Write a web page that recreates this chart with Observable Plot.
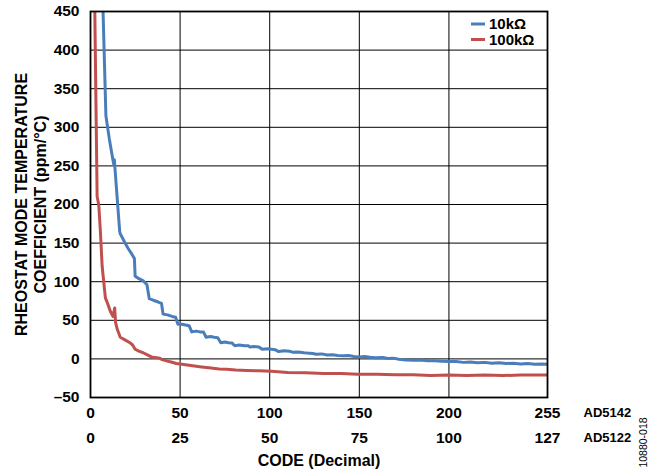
<!DOCTYPE html>
<html>
<head>
<meta charset="utf-8">
<script src="https://cdn.jsdelivr.net/npm/d3@7"></script>
<script src="https://cdn.jsdelivr.net/npm/@observablehq/plot@0.6"></script>
<style>
  html, body { margin: 0; padding: 0; background: #fff; }
  #chart { width: 660px; height: 471px; }
</style>
</head>
<body>
<div id="chart"></div>
<script>
// ---- data ----
const ad5142Ticks = [0, 50, 100, 150, 200, 255];
const ad5122Labels = [0, 25, 50, 75, 100, 127];
const yTicks = [-50, 0, 50, 100, 150, 200, 250, 300, 350, 400, 450];
const seriesNames = ["10kΩ", "100kΩ"];
const seriesColors = ["#4a7ebb", "#c0504d"];

const blueCode = [7, 8.6, 10.5, 12.5, 13, 13.3, 13.6, 14, 14.7, 16.3, 16.6, 18, 19.3, 21, 23, 24.5, 24.9, 27, 29.5, 31.5, 32.8, 35, 37.5, 39.6, 40.5, 43, 45.5, 47.5, 48.8, 51, 53, 55, 56.5, 59, 61, 63, 64.5, 67, 69, 71, 72.7, 75, 77, 79, 80.5, 83, 86, 88, 89, 91, 94, 95.8, 99, 103, 105, 108, 111, 113, 116, 119, 121, 124, 126, 129, 132, 135, 138, 141, 144, 147, 150, 153, 156, 159, 163, 166, 169, 172, 176, 180, 184, 188, 192, 196, 200, 204, 208, 212, 216, 220, 224, 228, 232, 236, 240, 244, 248, 252, 255];
const blueValue = [450, 315, 285, 258, 252, 258, 248, 236, 214, 165, 162, 156, 150, 143, 136, 130, 107, 104, 101, 96, 78, 76, 74, 72, 58, 57, 55, 54, 45, 45, 44, 43, 35, 36, 35, 35, 28, 29, 28, 27.5, 21, 22, 21, 20.5, 17, 18, 17, 17, 15.5, 16, 15.5, 12.5, 13, 12, 9.5, 10.5, 10, 8.5, 9, 8, 7.5, 7, 6, 6.5, 5, 5.5, 4.5, 4, 4.5, 3, 2.6, 3, 2, 1.5, 1.7, 0.5, 1, -0.5, -1.3, -1.7, -1.5, -2.5, -2.5, -3, -3.5, -3.5, -4.5, -4, -5, -4.5, -5.5, -5, -6, -5.5, -6.5, -6, -7, -6.5, -7];

const redCode = [2.4, 3.7, 4.6, 5.5, 6.5, 8.3, 9.5, 11, 12.5, 13.5, 14, 15, 16.6, 19, 22, 23.5, 24.9, 27, 29.4, 32, 34, 38.7, 40, 42.4, 45, 47.9, 51, 54, 57, 62, 66, 71.8, 76, 81, 87, 94, 101, 110, 120, 130, 140, 149, 160, 170, 180, 190, 200, 210, 220, 230, 240, 255];
const redValue = [450, 210, 200, 166, 120, 79, 72, 62, 55, 66, 47, 38, 28, 25, 21, 18, 12.5, 10, 8, 5, 2.6, 1, -1, -2.6, -4, -6, -7, -8, -9, -10.5, -11.5, -13, -13.5, -14.5, -15, -15.5, -16, -17.5, -18, -19, -19, -20, -20, -20.5, -20.5, -21.5, -21, -21.5, -21, -21.5, -21, -21];

// ---- build tables ----
const blue = blueCode.map((c, i) => ({code: c, value: blueValue[i], series: seriesNames[0]}));
const red = redCode.map((c, i) => ({code: c, value: redValue[i], series: seriesNames[1]}));

const font = "'Liberation Sans', Arial, Helvetica, sans-serif";

const chart = Plot.plot({
  width: 660,
  height: 471,
  marginLeft: 90,
  marginRight: 113,
  marginTop: 11,
  marginBottom: 74,
  style: {fontFamily: font, fontSize: "15.5px", fontWeight: "bold", color: "black", background: "white", overflow: "visible"},
  x: {domain: [0, 255]},
  y: {domain: [-50, 450]},
  marks: [
    Plot.gridX([50, 100, 150, 200], {stroke: "black", strokeOpacity: 1, strokeWidth: 1}),
    Plot.gridY(yTicks, {stroke: "black", strokeOpacity: 1, strokeWidth: 1}),
    Plot.line(blue, {x: "code", y: "value", stroke: seriesColors[0], strokeWidth: 3, clip: true}),
    Plot.line(red, {x: "code", y: "value", stroke: seriesColors[1], strokeWidth: 3, clip: true}),
    Plot.frame({stroke: "black", strokeWidth: 1.8}),
    Plot.axisY(yTicks, {tickSize: 0, tickPadding: 11, label: null, fontSize: 15.5, tickFormat: d => d < 0 ? "\u2013" + Math.abs(d) : String(d)}),
    Plot.axisX(ad5142Ticks, {tickSize: 0, tickPadding: 9.5, label: null, fontSize: 15.5, tickFormat: d => String(d)}),
    Plot.axisX(ad5142Ticks, {tickSize: 0, tickPadding: 34.5, label: null, fontSize: 15.5, tickFormat: d => String(ad5122Labels[ad5142Ticks.indexOf(d)])}),
    Plot.text(["RHEOSTAT MODE TEMPERATURE\nCOEFFICIENT (ppm/°C)"], {frameAnchor: "left", rotate: -90, dx: -60, textAnchor: "middle", lineAnchor: "middle", lineHeight: 1.15, fontSize: 16, fontWeight: "bold"}),
    Plot.text(["CODE (Decimal)"], {frameAnchor: "bottom", dy: 63, textAnchor: "middle", lineAnchor: "middle", fontSize: 16, fontWeight: "bold"}),
    Plot.text(["AD5142"], {frameAnchor: "bottom-right", dx: 36, dy: 15, textAnchor: "start", lineAnchor: "middle", fontSize: 13, fontWeight: "bold"}),
    Plot.text(["AD5122"], {frameAnchor: "bottom-right", dx: 36, dy: 40, textAnchor: "start", lineAnchor: "middle", fontSize: 13, fontWeight: "bold"}),
    Plot.text(["10880-018"], {frameAnchor: "bottom-right", dx: 96, dy: 45, rotate: -90, textAnchor: "middle", lineAnchor: "middle", fontSize: 10.5, fontWeight: "normal"})
  ]
});

// legend inside the top-right cell
const svg = d3.select(chart);
const lg = svg.append("g").attr("font-family", font).attr("font-size", 15).attr("font-weight", "bold").attr("text-anchor", "start");
seriesNames.forEach((name, i) => {
  const yy = 24 + i * 15.5;
  lg.append("line").attr("x1", 471).attr("x2", 485).attr("y1", yy).attr("y2", yy)
    .attr("stroke", seriesColors[i]).attr("stroke-width", 3);
  lg.append("text").attr("x", 489).attr("y", yy).attr("dy", "0.36em").attr("text-anchor", "start").attr("fill", "black").text(name);
});

document.getElementById("chart").appendChild(chart);
</script>
</body>
</html>
